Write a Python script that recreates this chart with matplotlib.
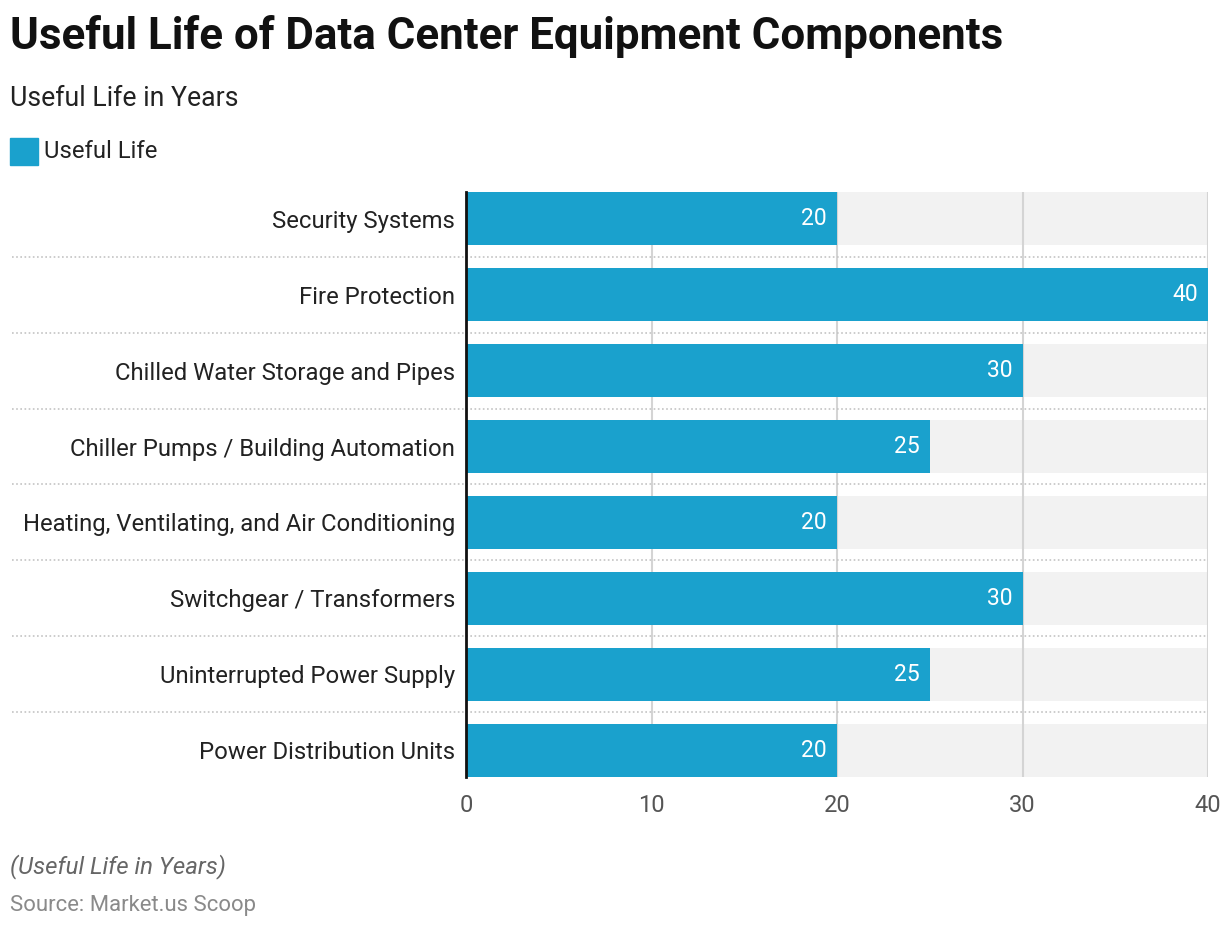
import numpy as np
import matplotlib.pyplot as plt

plt.rcParams['font.family'] = ['Roboto', 'DejaVu Sans']

categories = [
    'Security Systems',
    'Fire Protection',
    'Chilled Water Storage and Pipes',
    'Chiller Pumps / Building Automation',
    'Heating, Ventilating, and Air Conditioning',
    'Switchgear / Transformers',
    'Uninterrupted Power Supply',
    'Power Distribution Units',
]
useful_life = [20, 40, 30, 25, 20, 30, 25, 20]
x_ticks = [0, 10, 20, 30, 40]

bar_color = '#1aa1cd'
xmax = 40

fig = plt.figure(figsize=(12.2, 9.3), dpi=100)
ax = fig.add_axes([466 / 1220, 1 - 777 / 930, (1208 - 466) / 1220, (777 - 192) / 930])

y = np.arange(len(categories))
h = 0.7

# grey track behind each bar
ax.barh(y, [xmax] * len(y), height=h, color='#f2f2f2', zorder=1)
for gx in x_ticks[1:]:
    ax.axvline(gx, color='#d4d4d4', lw=1.5, zorder=2)
ax.barh(y, useful_life, height=h, color=bar_color, zorder=3)

# dotted separators between rows, running under the labels too
sep_left = (12 - 466) / 742
for i in range(len(y) - 1):
    ax.plot([sep_left, 1], [i + 0.5, i + 0.5], transform=ax.get_yaxis_transform(),
            color='#c4c4c4', lw=1.2, ls=(0, (1, 1.5)), zorder=2.5, clip_on=False)

for yi, v in zip(y, useful_life):
    ax.text(v - 0.55, yi, str(v), ha='right', va='center', color='white', fontsize=16.5, zorder=4)

ax.set_xlim(0, xmax)
ax.set_ylim(len(y) - 1 + h / 2, -h / 2)
ax.set_yticks(y)
ax.set_yticklabels(categories, fontsize=17.2, color='#222222')
ax.set_xticks(x_ticks)
ax.set_xticklabels([str(t) for t in x_ticks], fontsize=17, color='#555555')
ax.tick_params(axis='both', length=0)
ax.tick_params(axis='y', pad=8)
ax.tick_params(axis='x', pad=12)
for s in ['top', 'right', 'bottom']:
    ax.spines[s].set_visible(False)
ax.spines['left'].set_color('#111111')
ax.spines['left'].set_linewidth(2)
ax.spines['left'].set_zorder(5)

fig.text(10 / 1220, 1 - 37 / 930, 'Useful Life of Data Center Equipment Components',
         fontsize=31.6, fontweight='bold', color='#111111', va='center', ha='left')
fig.text(10 / 1220, 1 - 98 / 930, 'Useful Life in Years', fontsize=19.2,
         color='#222222', va='center', ha='left')
fig.patches.append(plt.Rectangle((10 / 1220, 1 - 165 / 930), 28 / 1220, 27 / 930,
                                 transform=fig.transFigure, color=bar_color))
fig.text(44 / 1220, 1 - 151 / 930, 'Useful Life', fontsize=17.2, color='#222222',
         va='center', ha='left')
fig.text(10 / 1220, 1 - 867 / 930, '(Useful Life in Years)', fontsize=17.3, style='italic',
         color='#666666', va='center', ha='left')
fig.text(10 / 1220, 1 - 905 / 930, 'Source: Market.us Scoop', fontsize=15.9,
         color='#8a8a8a', va='center', ha='left')

fig.savefig('out.png', dpi=100)
